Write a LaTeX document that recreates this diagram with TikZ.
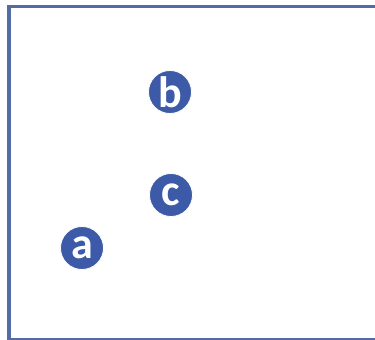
\documentclass[tikz,border=0pt]{standalone}
\usepackage{fontspec}
\setmainfont{Carlito}
\definecolor{framecol}{RGB}{84,108,165}
\definecolor{dotcol}{RGB}{60,90,168}
\begin{document}
\begin{tikzpicture}[x=1pt,y=-1pt,
  dot/.style={circle,fill=dotcol,draw=white,line width=0.8pt,minimum size=43pt,inner sep=0pt,text=white,font=\bfseries\fontsize{44}{44}\selectfont}]
\useasboundingbox (0,0) rectangle (375,340);
\draw[framecol,line width=3.4pt] (9,6.5) rectangle (385,339.5);
\node[dot] (b) at (170,92) {b};
\node[dot] (c) at (171,195) {c};
\node[dot] (a) at (82,248) {a};
\end{tikzpicture}
\end{document}
